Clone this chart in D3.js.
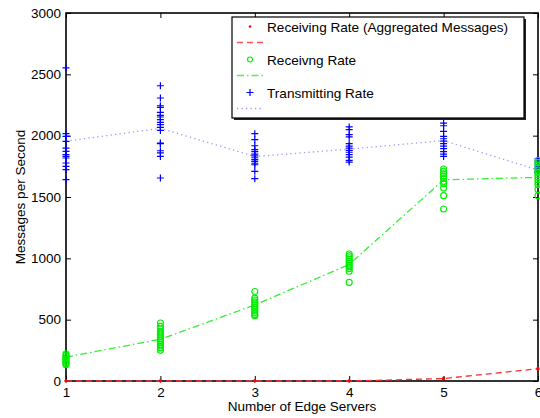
<html lang='en'>
  <head>
    <meta charset='UTF-8' />
    <script src='https://d3js.org/d3.v7.min.js'></script>
    <style>
      body { margin: 0; background: #fff; }
      text { font-family: "Liberation Sans", Arial, sans-serif; fill: #000; }
      .axis text { font-size: 13.5px; }
      .axis path, .axis line { stroke: #000; }
    </style>
    <title>Messages per Second</title>
  </head>
  <body>
  <div id='chart'></div>
  <script>

  //number of edge servers
  const servers = [1, 2, 3, 4, 5, 6];

  //receiving rate (aggregated messages), samples per server count
  const aggPoints = [[0, 0, 0], [0, 0, 0], [0, 0, 0], [0, 0, 0], [15, 20, 25], [95, 100, 105]];
  const aggLine = [0, 0, 0, 0, 20, 100];

  //receiving rate samples
  const recvPoints = [
    [222, 210, 200, 190, 180, 170, 160, 150, 140, 133],
    [473, 445, 424, 405, 390, 375, 360, 345, 330, 315, 300, 285, 270, 250],
    [730, 676, 660, 645, 630, 615, 600, 585, 570, 555, 540, 532],
    [1035, 1020, 1005, 990, 975, 960, 945, 930, 915, 895, 804],
    [1728, 1710, 1690, 1670, 1650, 1627, 1608, 1573, 1511, 1402],
    [1800, 1780, 1760, 1740, 1720, 1700, 1680, 1660, 1640, 1620, 1600, 1560, 1510]
  ];
  const recvLine = [195, 340, 620, 950, 1640, 1660];

  //transmitting rate samples
  const sendPoints = [
    [2552, 2016, 1994, 1953, 1899, 1872, 1845, 1831, 1818, 1777, 1750, 1723, 1641],
    [2407, 2307, 2244, 2230, 2190, 2165, 2152, 2130, 2108, 2090, 2068, 2043, 1940, 1935, 1877, 1859, 1831, 1655],
    [2016, 1967, 1918, 1886, 1870, 1850, 1835, 1820, 1805, 1790, 1775, 1763, 1709, 1649],
    [2071, 2049, 2008, 1990, 1935, 1915, 1899, 1880, 1865, 1845, 1825, 1799, 1785],
    [2103, 2081, 2035, 1994, 1975, 1955, 1935, 1915, 1895, 1870, 1850, 1831],
    [1812, 1795, 1780, 1765, 1750, 1735, 1720, 1705, 1698]
  ];
  const sendLine = [1955, 2060, 1830, 1890, 1960, 1720];

  const yTicks = [0, 500, 1000, 1500, 2000, 2500, 3000];

  const legendLabels = ["Receiving Rate (Aggregated Messages)", "Receivng Rate", "Transmitting Rate"];

  const width = 540;
  const height = 418;
  const margin = { top: 13, right: 2, bottom: 37, left: 66 };

  const svg = d3.select("#chart")
    .append("svg")
    .attr("width", width)
    .attr("height", height);

  const xScale = d3.scaleLinear().domain([1, 6]).range([margin.left, width - margin.right]);
  const yScale = d3.scaleLinear().domain([0, 3000]).range([height - margin.bottom, margin.top]);

  const x0 = xScale.range()[0], x1 = xScale.range()[1];
  const y0 = yScale.range()[0], y1 = yScale.range()[1];

  //axes, ticks pointing inward like matlab
  svg.append("g").attr("class", "axis")
    .attr("transform", `translate(${x0},0)`)
    .call(d3.axisLeft(yScale).tickValues(yTicks).tickFormat(d3.format("d"))
      .tickSizeInner(-5).tickSizeOuter(0).tickPadding(5));
  svg.append("g").attr("class", "axis")
    .attr("transform", `translate(${x1},0)`)
    .call(d3.axisRight(yScale).tickValues(yTicks).tickSizeInner(-5).tickSizeOuter(0).tickFormat(""));
  svg.append("g").attr("class", "axis")
    .attr("transform", `translate(0,${y0})`)
    .call(d3.axisBottom(xScale).tickValues(servers).tickFormat(d3.format("d"))
      .tickSizeInner(-5).tickSizeOuter(0).tickPadding(6));
  svg.append("g").attr("class", "axis")
    .attr("transform", `translate(0,${y1})`)
    .call(d3.axisTop(xScale).tickValues(servers).tickSizeInner(-5).tickSizeOuter(0).tickFormat(""));
  svg.selectAll(".axis .domain").remove();

  svg.append("rect")
    .attr("x", x0).attr("y", y1)
    .attr("width", x1 - x0).attr("height", y0 - y1)
    .attr("fill", "none").attr("stroke", "#000").attr("stroke-width", 1.6);

  const line = d3.line().x((d, i) => xScale(servers[i])).y((d) => yScale(d));

  //mean lines
  svg.append("path").datum(sendLine).attr("d", line)
    .attr("fill", "none").attr("stroke", "#9a9aff").attr("stroke-width", 1.3)
    .attr("stroke-dasharray", "1.3,3.2");
  svg.append("path").datum(recvLine).attr("d", line)
    .attr("fill", "none").attr("stroke", "#33ee33").attr("stroke-width", 1.3)
    .attr("stroke-dasharray", "7,3,1.5,3");

  //samples
  const flat = (arr) => arr.flatMap((vals, i) => vals.map((v) => ({ x: servers[i], y: v })));

  svg.append("g").selectAll("path").data(flat(sendPoints)).join("path")
    .attr("d", (d) => {
      const cx = xScale(d.x), cy = yScale(d.y);
      return `M${cx - 3.5},${cy}H${cx + 3.5}M${cx},${cy - 3.5}V${cy + 3.5}`;
    })
    .attr("stroke", "#0000ff").attr("stroke-width", 1.2).attr("fill", "none");

  svg.append("g").selectAll("circle").data(flat(recvPoints)).join("circle")
    .attr("cx", (d) => xScale(d.x)).attr("cy", (d) => yScale(d.y)).attr("r", 3)
    .attr("fill", "none").attr("stroke", "#00ee00").attr("stroke-width", 1.1);

  svg.append("path").datum(aggLine).attr("d", line)
    .attr("fill", "none").attr("stroke", "#ff3030").attr("stroke-width", 1.3)
    .attr("stroke-dasharray", "6,4");

  svg.append("g").selectAll("circle").data(flat(aggPoints)).join("circle")
    .attr("cx", (d) => xScale(d.x)).attr("cy", (d) => yScale(d.y)).attr("r", 1.4)
    .attr("fill", "#ff0000");

  //legend
  const legend = svg.append("g").attr("transform", "translate(232,17)");
  legend.append("rect").attr("x", 2).attr("y", 2).attr("width", 292).attr("height", 101).attr("fill", "#222");
  legend.append("rect").attr("width", 292).attr("height", 101)
    .attr("fill", "#fff").attr("stroke", "#000").attr("stroke-width", 1.2);

  const rowH = 33;
  legend.selectAll("text.lbl").data(legendLabels).join("text")
    .attr("class", "lbl")
    .attr("x", 35).attr("y", (d, i) => 14.5 + i * rowH)
    .attr("font-size", 13.6).attr("text-anchor", "start")
    .text((d) => d);

  //legend markers
  legend.append("circle").attr("cx", 18).attr("cy", 9.5).attr("r", 1.3).attr("fill", "#ff0000");
  legend.append("circle").attr("cx", 18).attr("cy", 9.5 + rowH).attr("r", 2.5)
    .attr("fill", "none").attr("stroke", "#00ee00").attr("stroke-width", 1.1);
  legend.append("path")
    .attr("d", `M14.5,${9.5 + 2 * rowH}H21.5M18,${6 + 2 * rowH}V${13 + 2 * rowH}`)
    .attr("stroke", "#0000ff").attr("stroke-width", 1.2);

  //legend line samples
  const samples = [
    { color: "#ff5050", dash: "6,4" },
    { color: "#55ee55", dash: "7,3,1.5,3" },
    { color: "#9a9aff", dash: "1.3,3.2" }
  ];
  legend.selectAll("line.sample").data(samples).join("line")
    .attr("class", "sample")
    .attr("x1", 5).attr("x2", 31)
    .attr("y1", (d, i) => 25.5 + i * rowH).attr("y2", (d, i) => 25.5 + i * rowH)
    .attr("stroke", (d) => d.color).attr("stroke-width", 1.3)
    .attr("stroke-dasharray", (d) => d.dash);

  //axis titles
  svg.append("text")
    .attr("x", (x0 + x1) / 2).attr("y", 411)
    .attr("text-anchor", "middle").attr("font-size", 13.5)
    .text("Number of Edge Servers");

  svg.append("text")
    .attr("transform", `translate(25,${(y0 + y1) / 2}) rotate(-90)`)
    .attr("text-anchor", "middle").attr("font-size", 13.5)
    .text("Messages per Second");

  </script>
  </body>
</html>
